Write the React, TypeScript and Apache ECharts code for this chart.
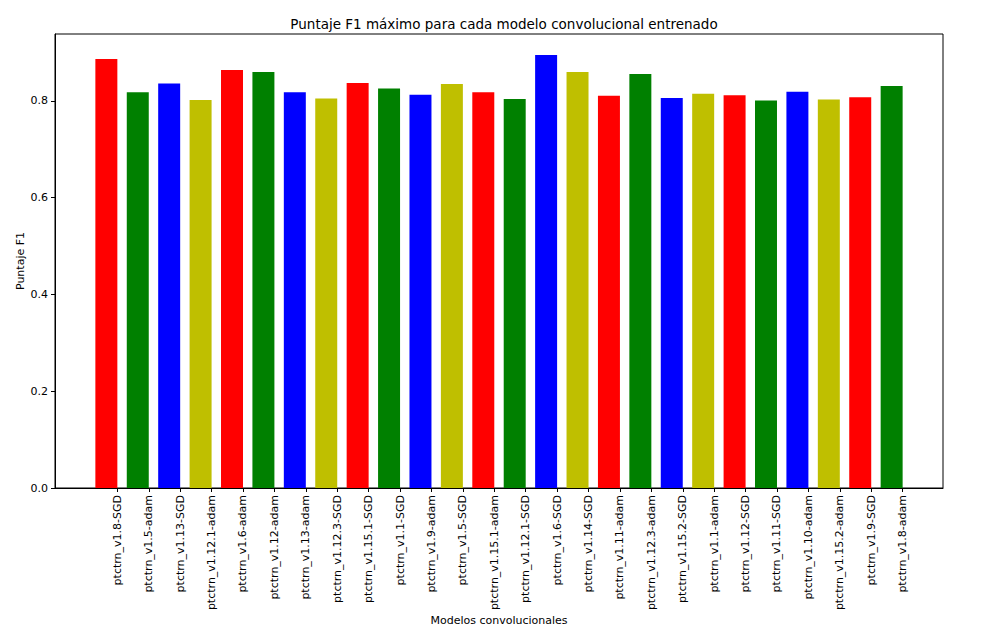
import React, { useEffect, useRef } from "react";
import * as echarts from "echarts";

const models = [
  "ptctrn_v1.8-SGD", "ptctrn_v1.5-adam", "ptctrn_v1.13-SGD", "ptctrn_v1.12.1-adam",
  "ptctrn_v1.6-adam", "ptctrn_v1.12-adam", "ptctrn_v1.13-adam", "ptctrn_v1.12.3-SGD",
  "ptctrn_v1.15.1-SGD", "ptctrn_v1.1-SGD", "ptctrn_v1.9-adam", "ptctrn_v1.5-SGD",
  "ptctrn_v1.15.1-adam", "ptctrn_v1.12.1-SGD", "ptctrn_v1.6-SGD", "ptctrn_v1.14-SGD",
  "ptctrn_v1.11-adam", "ptctrn_v1.12.3-adam", "ptctrn_v1.15.2-SGD", "ptctrn_v1.1-adam",
  "ptctrn_v1.12-SGD", "ptctrn_v1.11-SGD", "ptctrn_v1.10-adam", "ptctrn_v1.15.2-adam",
  "ptctrn_v1.9-SGD", "ptctrn_v1.8-adam",
];

const f1Scores = [
  0.887, 0.818, 0.836, 0.802, 0.864, 0.860, 0.818, 0.805, 0.837, 0.826, 0.813, 0.835, 0.818,
  0.804, 0.895, 0.860, 0.811, 0.856, 0.806, 0.815, 0.812, 0.801, 0.819, 0.803, 0.808, 0.831,
];

const palette = ["#ff0000", "#008000", "#0000ff", "#bfbf00"];
const yTicks = [0, 0.2, 0.4, 0.6, 0.8];

const BAR_W = 0.7;
const HALF = BAR_W / 2;
const MARGIN = HALF + 0.05 * (models.length - 1 + BAR_W);

export default function App() {
  const ref = useRef<HTMLDivElement>(null);
  useEffect(() => {
    if (!ref.current) return;
    const chart = echarts.init(ref.current, undefined, { renderer: "svg" });
    const tickPos = models.map((_, i) => i + HALF);
    const font = "DejaVu Sans";
    chart.setOption({
      animation: false,
      title: {
        text: "Puntaje F1 máximo para cada modelo convolucional entrenado",
        left: 499,
        top: 12,
        textAlign: "center",
        textStyle: { fontFamily: font, fontSize: 13.5, fontWeight: "normal", color: "#000" },
      },
      grid: {
        left: 55, right: 51, top: 34, bottom: 154,
        show: true, borderColor: "#000", borderWidth: 1, backgroundColor: "#fff",
      },
      xAxis: {
        type: "value",
        min: -MARGIN,
        max: models.length - 1 + MARGIN,
        name: "Modelos convolucionales",
        nameLocation: "middle",
        nameGap: 127,
        nameMoveOverlap: false,
        nameTextStyle: { fontFamily: font, fontSize: 11, color: "#000" },
        axisLine: { show: true, onZero: false, lineStyle: { color: "#000" } },
        splitLine: { show: false },
        axisTick: { show: true, customValues: tickPos, length: 4, lineStyle: { color: "#000" } },
        axisLabel: {
          customValues: tickPos,
          rotate: 90,
          fontFamily: font,
          fontSize: 11,
          color: "#000",
          margin: 7,
          formatter: (v: number) => models[Math.round(v - HALF)] ?? "",
        },
      },
      yAxis: {
        type: "value",
        min: 0,
        max: 0.9385,
        interval: 0.2,
        name: "Puntaje F1",
        nameLocation: "middle",
        nameGap: 29,
        nameMoveOverlap: false,
        nameTextStyle: { fontFamily: font, fontSize: 11, color: "#000" },
        axisLine: { show: true, onZero: false, lineStyle: { color: "#000" } },
        splitLine: { show: false },
        axisTick: { show: true, customValues: yTicks, length: 4, lineStyle: { color: "#000" } },
        axisLabel: {
          customValues: yTicks,
          fontFamily: font,
          fontSize: 11,
          color: "#000",
          margin: 7,
          formatter: (v: number) => v.toFixed(1),
        },
      },
      series: [
        {
          type: "custom",
          encode: { x: 0, y: 1 },
          data: f1Scores.map((v, i) => [i, v]),
          renderItem: (params: any, api: any) => {
            const x = api.value(0);
            const y = api.value(1);
            const p1 = api.coord([x - HALF, y]);
            const p2 = api.coord([x + HALF, 0]);
            return {
              type: "rect",
              shape: { x: p1[0], y: p1[1], width: p2[0] - p1[0], height: p2[1] - p1[1] },
              style: { fill: palette[params.dataIndex % palette.length] },
            };
          },
        },
      ],
    });
    return () => chart.dispose();
  }, []);
  return (
    <div
      ref={ref}
      style={{ position: "fixed", left: 0, top: 0, width: 994, height: 642, background: "#fff" }}
    />
  );
}
